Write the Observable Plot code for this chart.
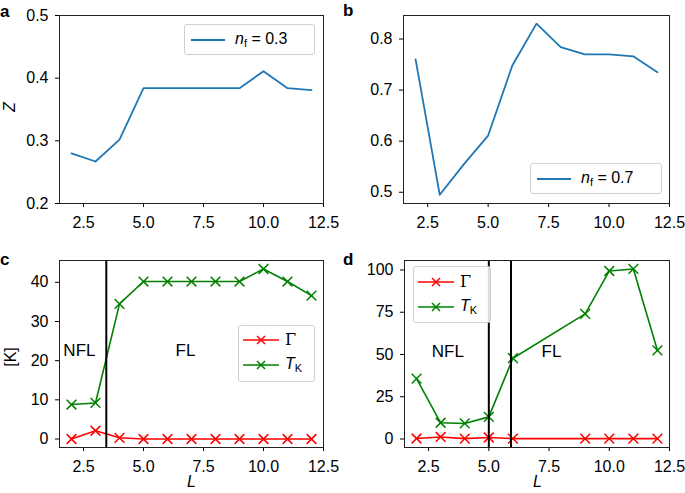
<!DOCTYPE html>
<html>
<head>
<meta charset="utf-8">
<script src="https://cdn.jsdelivr.net/npm/d3@7"></script>
<script src="https://cdn.jsdelivr.net/npm/@observablehq/plot@0.6"></script>
<style>
  html, body { margin: 0; padding: 0; background: #fff; }
  #root { position: relative; width: 685px; height: 493px; font-family: "Liberation Sans", Arial, sans-serif; color: #000; }
  .panel { position: absolute; }
  .lab { position: absolute; font-weight: bold; font-size: 17px; line-height: 1; }
  .txt { position: absolute; font-size: 16px; line-height: 1; white-space: nowrap; }
  .legend { position: absolute; border: 1px solid #d0d0d0; border-radius: 3px; background: rgba(255,255,255,0.85); box-sizing: border-box; }
  .entry { position: absolute; left: 0; display: flex; align-items: center; font-size: 16px; white-space: nowrap; }
  .entry svg { display: block; }
  sub { font-size: 11px; font-style: normal; vertical-align: -3px; }
</style>
</head>
<body>
<div id="root"></div>
<script>
// ---- data ----
const L = [2, 3, 4, 5, 6, 7, 8, 9, 10, 11, 12];
const zA = [0.280, 0.267, 0.302, 0.384, 0.384, 0.384, 0.384, 0.384, 0.411, 0.384, 0.381];
const zB = [0.760, 0.495, 0.555, 0.611, 0.748, 0.830, 0.784, 0.770, 0.770, 0.766, 0.735];
const gammaC = [0.0, 2.1, 0.3, 0.0, 0.0, 0.0, 0.0, 0.0, 0.0, 0.0, 0.0];
const tkC = [8.8, 9.2, 34.5, 40.2, 40.2, 40.2, 40.2, 40.2, 43.4, 40.2, 36.6];
const Ld = [2, 3, 4, 5, 6, 9, 10, 11, 12];
const gammaD = [0.3, 1.2, 0.2, 0.9, 0.2, 0.2, 0.2, 0.2, 0.2];
const tkD = [35.7, 9.6, 9.2, 13.1, 47.8, 74.0, 99.4, 100.6, 52.4];
const boundaryC = [3.45];
const boundaryD = [5.0, 5.92];
const annC = [{t: "NFL", x: 2.33, y: 22.5}, {t: "FL", x: 6.75, y: 22.5}];
const annD = [{t: "NFL", x: 3.3, y: 52}, {t: "FL", x: 7.6, y: 52}];
const xTicks = [2.5, 5.0, 7.5, 10.0, 12.5];
const yTicksA = [0.2, 0.3, 0.4, 0.5];
const yTicksB = [0.5, 0.6, 0.7, 0.8];
const yTicksC = [0, 10, 20, 30, 40];
const yTicksD = [0, 25, 50, 75, 100];

const BLUE = "#1f77b4", RED = "#ff0000", GREEN = "#008000";
const TICK_FONT = "16px";
const root = document.getElementById("root");

const rowsA = L.map((l, i) => ({L: l, v: zA[i]}));
const rowsB = L.map((l, i) => ({L: l, v: zB[i]}));
const gC = L.map((l, i) => ({L: l, v: gammaC[i]}));
const tC = L.map((l, i) => ({L: l, v: tkC[i]}));
const gD = Ld.map((l, i) => ({L: l, v: gammaD[i]}));
const tD = Ld.map((l, i) => ({L: l, v: tkD[i]}));

const style = {fontFamily: "'Liberation Sans', Arial, sans-serif", fontSize: TICK_FONT, color: "#000", background: "transparent", overflow: "visible"};

function panel({left, top, width, height, margins, ydomain, yticks, yfmt, marks}) {
  const svg = Plot.plot({
    width, height,
    marginLeft: margins[0], marginTop: margins[1], marginRight: margins[2], marginBottom: margins[3],
    style,
    x: {domain: [1.5, 12.5], label: null},
    y: {domain: ydomain, label: null},
    marks: [
      Plot.axisX({ticks: xTicks, tickFormat: d3.format(".1f"), label: null, tickSize: 4, tickPadding: 9, fontSize: TICK_FONT}),
      Plot.axisY({ticks: yticks, tickFormat: yfmt, label: null, tickSize: 4, tickPadding: 7, fontSize: TICK_FONT}),
      ...marks,
      Plot.frame({stroke: "#222", strokeWidth: 1})
    ]
  });
  d3.select(svg).selectAll('g[aria-label$="tick label"], g[aria-label$="tick label"] text').style("font-size", TICK_FONT);
  svg.classList.add("panel");
  svg.style.left = left + "px";
  svg.style.top = top + "px";
  root.appendChild(svg);
}

function seriesMarks(g, t) {
  return [
    Plot.line(g, {x: "L", y: "v", stroke: RED, strokeWidth: 1.6}),
    Plot.dot(g, {x: "L", y: "v", symbol: "times", r: 4.5, stroke: RED, strokeWidth: 1.5}),
    Plot.line(t, {x: "L", y: "v", stroke: GREEN, strokeWidth: 1.6}),
    Plot.dot(t, {x: "L", y: "v", symbol: "times", r: 4.5, stroke: GREEN, strokeWidth: 1.5})
  ];
}

// a
panel({left: 0, top: 0, width: 342, height: 240, margins: [59, 15, 19, 37],
  ydomain: [0.2, 0.5], yticks: yTicksA, yfmt: d3.format(".1f"),
  marks: [Plot.line(rowsA, {x: "L", y: "v", stroke: BLUE, strokeWidth: 1.8})]});
// b
panel({left: 342, top: 0, width: 343, height: 240, margins: [61, 15, 16, 37],
  ydomain: [0.478, 0.846], yticks: yTicksB, yfmt: d3.format(".1f"),
  marks: [Plot.line(rowsB, {x: "L", y: "v", stroke: BLUE, strokeWidth: 1.8})]});
// c
panel({left: 0, top: 240, width: 342, height: 253, margins: [59, 20, 19, 46],
  ydomain: [-2.17, 45.57], yticks: yTicksC, yfmt: d3.format("d"),
  marks: [
    ...seriesMarks(gC, tC),
    Plot.ruleX(boundaryC, {stroke: "#000", strokeWidth: 2}),
    Plot.text(annC, {x: "x", y: "y", text: "t", fontSize: 17})
  ]});
// d
panel({left: 342, top: 240, width: 343, height: 253, margins: [62, 20, 16, 46],
  ydomain: [-5.03, 105.6], yticks: yTicksD, yfmt: d3.format("d"),
  marks: [
    ...seriesMarks(gD, tD),
    Plot.ruleX(boundaryD, {stroke: "#000", strokeWidth: 2}),
    Plot.text(annD, {x: "x", y: "y", text: "t", fontSize: 17})
  ]});

// panel letters and axis labels
function addText(cls, html, left, top, extra) {
  const d = document.createElement("div");
  d.className = cls;
  d.innerHTML = html;
  d.style.left = left + "px";
  d.style.top = top + "px";
  if (extra) Object.assign(d.style, extra);
  root.appendChild(d);
}
addText("lab", "a", 0, 3);
addText("lab", "b", 343, 2);
addText("lab", "c", 0, 251);
addText("lab", "d", 343, 251);
addText("txt", "Z", 5, 99, {transform: "rotate(-90deg)", fontStyle: "italic"});
addText("txt", "[K]", 1, 349, {transform: "rotate(-90deg)"});
addText("txt", "<i>L</i>", 187, 474);
addText("txt", "<i>L</i>", 533, 474);

// legends
function swatch(color, marker) {
  const w = marker ? 36 : 34;
  let s = `<svg width="${w}" height="14"><line x1="0" y1="7" x2="${w}" y2="7" stroke="${color}" stroke-width="${marker ? 1.6 : 1.8}"/>`;
  if (marker) {
    const c = w / 2, r = 4;
    s += `<path d="M${c - r},${7 - r}L${c + r},${7 + r}M${c - r},${7 + r}L${c + r},${7 - r}" stroke="${color}" stroke-width="1.5"/>`;
  }
  return s + "</svg>";
}
function legend(left, top, width, height, entries) {
  const box = document.createElement("div");
  box.className = "legend";
  Object.assign(box.style, {left: left + "px", top: top + "px", width: width + "px", height: height + "px"});
  entries.forEach(e => {
    const row = document.createElement("div");
    row.className = "entry";
    row.style.top = e.top + "px";
    row.style.left = e.left + "px";
    row.innerHTML = swatch(e.color, e.marker) + `<span style="margin-left:${e.gap}px">${e.label}</span>`;
    box.appendChild(row);
  });
  root.appendChild(box);
}
const nfA = `<i>n</i><sub>f</sub> = 0.3`;
const nfB = `<i>n</i><sub>f</sub> = 0.7`;
const gam = `<span style="font-family:'DejaVu Serif','Liberation Serif',serif">Γ</span>`;
const tk = `<i>T</i><sub>K</sub>`;
legend(184, 24, 131, 31, [{top: 5, left: 6, color: BLUE, label: nfA, gap: 10}]);
legend(530, 163, 132, 31, [{top: 5, left: 6, color: BLUE, label: nfB, gap: 10}]);
legend(238, 325, 77, 57, [
  {top: 4, left: 4, color: RED, marker: true, label: gam, gap: 6},
  {top: 29, left: 4, color: GREEN, marker: true, label: tk, gap: 6}
]);
legend(413, 266, 78, 57, [
  {top: 5, left: 4, color: RED, marker: true, label: gam, gap: 6},
  {top: 30, left: 4, color: GREEN, marker: true, label: tk, gap: 6}
]);
</script>
</body>
</html>
